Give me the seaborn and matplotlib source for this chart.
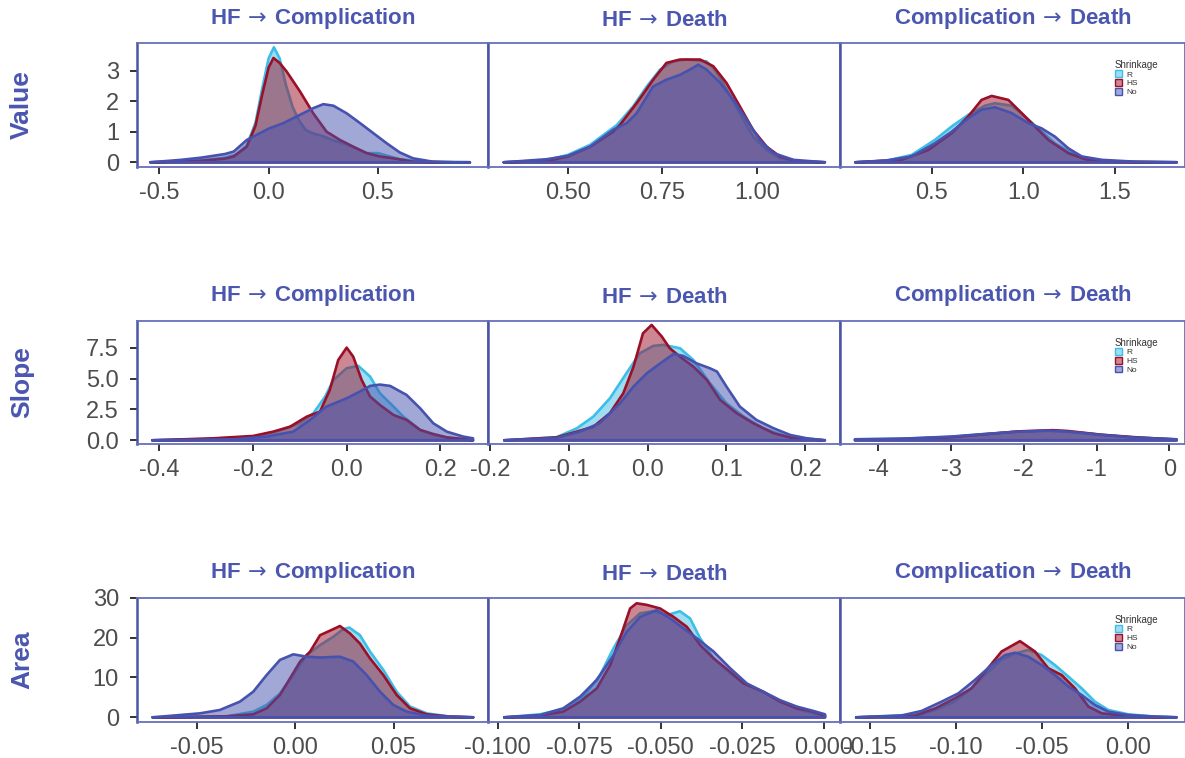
import numpy as np
import pandas as pd
import matplotlib
matplotlib.use("Agg")
import matplotlib.pyplot as plt
from matplotlib.patches import Patch
import seaborn as sns

# ---------------- data (density curves) ----------------
row_names = ["Value", "Slope", "Area"]
col_names = ["HF$\\,\\rightarrow\\,$Complication", "HF$\\,\\rightarrow\\,$Death", "Complication$\\,\\rightarrow\\,$Death"]
series = ["R", "HS", "No"]

# Value / HF -> Complication
v1_R_x = [-0.54, -0.4, -0.3, -0.2, -0.15, -0.1, -0.06, -0.03, 0.0, 0.024, 0.05, 0.08, 0.11, 0.14, 0.17, 0.2, 0.25, 0.3, 0.35, 0.4, 0.45, 0.5, 0.55, 0.6, 0.7, 0.92]
v1_R_y = [0, 0.03, 0.07, 0.15, 0.25, 0.55, 1.3, 2.4, 3.4, 3.76, 3.4, 2.5, 1.8, 1.35, 1.05, 0.95, 0.85, 0.7, 0.6, 0.45, 0.3, 0.3, 0.2, 0.1, 0.02, 0]
v1_HS_x = [-0.54, -0.4, -0.31, -0.2, -0.16, -0.1, -0.06, -0.03, 0.0, 0.022, 0.05, 0.082, 0.143, 0.204, 0.265, 0.326, 0.387, 0.448, 0.509, 0.57, 0.66, 0.8, 0.92]
v1_HS_y = [0, 0.03, 0.05, 0.12, 0.19, 0.51, 1.2, 2.2, 3.1, 3.41, 3.25, 2.97, 2.32, 1.6, 1.0, 0.73, 0.51, 0.3, 0.19, 0.13, 0.02, 0, 0]
v1_No_x = [-0.54, -0.4, -0.31, -0.2, -0.16, -0.1, -0.04, 0.0, 0.067, 0.143, 0.204, 0.25, 0.296, 0.357, 0.418, 0.479, 0.54, 0.6, 0.66, 0.75, 0.85, 0.92]
v1_No_y = [0, 0.08, 0.15, 0.27, 0.35, 0.73, 0.95, 1.1, 1.28, 1.55, 1.77, 1.9, 1.85, 1.6, 1.28, 0.95, 0.62, 0.32, 0.13, 0.02, 0, 0]

# Value / HF -> Death
v2_R_x = [0.331, 0.444, 0.5, 0.559, 0.63, 0.673, 0.709, 0.744, 0.779, 0.814, 0.867, 0.885, 0.911, 0.955, 0.99, 1.026, 1.061, 1.105, 1.18]
v2_R_y = [0, 0.07, 0.24, 0.57, 1.22, 1.83, 2.48, 3.03, 3.30, 3.36, 3.30, 3.08, 2.59, 1.6, 0.84, 0.40, 0.13, 0.03, 0]
v2_HS_x = [0.331, 0.444, 0.5, 0.56, 0.62, 0.638, 0.682, 0.726, 0.761, 0.797, 0.85, 0.885, 0.92, 0.955, 0.99, 1.026, 1.061, 1.105, 1.18]
v2_HS_y = [0, 0.04, 0.19, 0.51, 1.0, 1.22, 1.93, 2.70, 3.25, 3.36, 3.36, 3.14, 2.59, 1.83, 1.06, 0.51, 0.19, 0.04, 0]
v2_No_x = [0.331, 0.444, 0.5, 0.559, 0.62, 0.656, 0.682, 0.726, 0.761, 0.797, 0.823, 0.845, 0.867, 0.903, 0.938, 0.973, 1.008, 1.044, 1.097, 1.18]
v2_No_y = [0, 0.10, 0.21, 0.51, 1.06, 1.28, 1.6, 2.48, 2.70, 2.86, 3.03, 3.19, 3.03, 2.6, 2.04, 1.39, 0.73, 0.30, 0.08, 0]

# Value / Complication -> Death
v3_R_x = [0.082, 0.25, 0.389, 0.516, 0.608, 0.699, 0.79, 0.845, 0.936, 1.009, 1.082, 1.173, 1.283, 1.39, 1.55, 1.84]
v3_R_y = [0, 0.05, 0.24, 0.73, 1.17, 1.55, 1.85, 1.93, 1.85, 1.50, 1.11, 0.62, 0.24, 0.08, 0.02, 0]
v3_HS_x = [0.082, 0.334, 0.48, 0.608, 0.699, 0.772, 0.827, 0.918, 0.991, 1.064, 1.137, 1.246, 1.338, 1.429, 1.6, 1.84]
v3_HS_y = [0, 0.08, 0.40, 0.95, 1.50, 2.04, 2.17, 2.04, 1.61, 1.17, 0.73, 0.30, 0.10, 0.02, 0.01, 0]
v3_No_x = [0.082, 0.25, 0.389, 0.516, 0.608, 0.699, 0.772, 0.845, 0.936, 1.027, 1.1, 1.173, 1.246, 1.32, 1.43, 1.61, 1.84]
v3_No_y = [0, 0.06, 0.19, 0.62, 1.0, 1.44, 1.72, 1.80, 1.61, 1.28, 1.11, 0.84, 0.46, 0.19, 0.08, 0.02, 0]

# Slope / HF -> Complication
s1_R_x = [-0.415, -0.3, -0.2, -0.15, -0.1, -0.071, -0.046, -0.028, 0.0, 0.025, 0.05, 0.071, 0.1, 0.121, 0.157, 0.185, 0.22, 0.27]
s1_R_y = [0, 0.1, 0.3, 0.7, 1.38, 2.19, 3.54, 4.89, 5.83, 6.02, 5.16, 3.81, 2.73, 1.92, 0.84, 0.43, 0.16, 0]
s1_HS_x = [-0.415, -0.285, -0.2, -0.157, -0.121, -0.085, -0.057, -0.036, -0.018, 0.0, 0.014, 0.032, 0.05, 0.071, 0.1, 0.128, 0.157, 0.185, 0.214, 0.256, 0.27]
s1_HS_y = [0, 0.16, 0.35, 0.70, 1.1, 1.92, 2.32, 4.08, 6.5, 7.5, 6.77, 4.89, 3.54, 2.86, 2.05, 1.65, 0.84, 0.51, 0.24, 0.08, 0]
s1_No_x = [-0.415, -0.242, -0.171, -0.114, -0.078, -0.043, 0.0, 0.028, 0.05, 0.071, 0.093, 0.128, 0.157, 0.185, 0.214, 0.249, 0.27]
s1_No_y = [0, 0.08, 0.30, 0.70, 1.65, 2.73, 3.4, 3.94, 4.40, 4.51, 4.40, 3.67, 2.59, 1.38, 0.70, 0.30, 0.16]

# Slope / HF -> Death
s2_R_x = [-0.182, -0.116, -0.09, -0.069, -0.048, -0.027, -0.01, 0.007, 0.02, 0.041, 0.058, 0.079, 0.1, 0.122, 0.147, 0.177, 0.225]
s2_R_y = [0, 0.24, 0.97, 1.92, 3.40, 5.43, 7.04, 7.64, 7.72, 7.45, 6.5, 4.62, 3.0, 1.92, 0.97, 0.30, 0]
s2_HS_x = [-0.182, -0.116, -0.09, -0.069, -0.048, -0.031, -0.018, -0.006, 0.005, 0.018, 0.028, 0.041, 0.058, 0.075, 0.092, 0.113, 0.134, 0.16, 0.185, 0.225]
s2_HS_y = [0, 0.24, 0.70, 1.1, 2.19, 3.81, 5.96, 8.66, 9.34, 8.39, 7.45, 6.77, 5.96, 4.89, 3.27, 2.19, 1.38, 0.57, 0.16, 0]
s2_No_x = [-0.182, -0.116, -0.086, -0.061, -0.035, -0.018, -0.001, 0.016, 0.033, 0.045, 0.062, 0.079, 0.088, 0.1, 0.117, 0.138, 0.16, 0.181, 0.202, 0.225]
s2_No_y = [0, 0.19, 0.70, 1.38, 3.0, 4.35, 5.43, 6.23, 6.99, 6.83, 6.23, 5.83, 5.56, 4.35, 2.73, 1.65, 0.97, 0.43, 0.16, 0]

# Slope / Complication -> Death
s3_R_x = [-4.32, -3.68, -3.0, -2.54, -2.08, -1.65, -1.45, -0.93, -0.47, 0.1]
s3_R_y = [0.08, 0.12, 0.28, 0.5, 0.70, 0.76, 0.74, 0.45, 0.22, 0.08]
s3_HS_x = [-4.32, -3.68, -3.0, -2.54, -2.08, -1.6, -1.39, -0.93, -0.47, 0.1]
s3_HS_y = [0.05, 0.1, 0.25, 0.48, 0.72, 0.82, 0.75, 0.45, 0.25, 0.06]
s3_No_x = [-4.32, -3.68, -3.0, -2.54, -2.08, -1.67, -1.39, -0.93, -0.47, 0.1]
s3_No_y = [0.08, 0.13, 0.30, 0.51, 0.70, 0.78, 0.70, 0.43, 0.22, 0.08]

# Area / HF -> Complication
a1_R_x = [-0.0726, -0.035, -0.0214, -0.0146, -0.0078, -0.001, 0.0058, 0.0126, 0.0193, 0.0244, 0.0275, 0.0329, 0.038, 0.0448, 0.0516, 0.0584, 0.0669, 0.0788, 0.0906]
a1_R_y = [0, 0.25, 1.42, 3.1, 6.0, 10.6, 15.6, 18.1, 20.2, 22.1, 22.5, 20.6, 16.5, 11.9, 6.4, 2.7, 1.0, 0.17, 0]
a1_HS_x = [-0.0726, -0.035, -0.0214, -0.0146, -0.0078, -0.0027, 0.0024, 0.0075, 0.0126, 0.0193, 0.0227, 0.0278, 0.0329, 0.038, 0.0448, 0.0516, 0.0584, 0.0669, 0.0788, 0.0906]
a1_HS_y = [0, 0.25, 0.75, 2.26, 5.6, 9.77, 13.95, 16.46, 20.6, 22.1, 22.9, 21.05, 18.5, 14.8, 10.6, 5.6, 2.26, 0.75, 0.17, 0]
a1_No_x = [-0.0726, -0.0485, -0.0384, -0.0282, -0.0214, -0.0146, -0.0078, -0.001, 0.0058, 0.0126, 0.0227, 0.0295, 0.0363, 0.0431, 0.0499, 0.0567, 0.0669, 0.0906]
a1_No_y = [0, 1.0, 1.84, 3.93, 6.43, 10.6, 14.4, 15.8, 15.2, 15.0, 15.2, 14.0, 10.6, 6.43, 3.1, 1.42, 0.42, 0]

# Area / HF -> Death
a2_R_x = [-0.098, -0.087, -0.0788, -0.0737, -0.0686, -0.0645, -0.0604, -0.0563, -0.0522, -0.0482, -0.0441, -0.041, -0.0379, -0.0338, -0.0287, -0.0246, -0.0185, -0.0134, -0.0083, -0.0032, 0.0004]
a2_R_y = [0, 0.75, 2.26, 5.2, 10.6, 17.3, 23.1, 26.1, 26.6, 25.6, 26.6, 24.8, 19.8, 14.8, 11.0, 8.5, 6.3, 4.1, 2.1, 1.0, 0.42]
a2_HS_x = [-0.098, -0.087, -0.0799, -0.0747, -0.0696, -0.0655, -0.0625, -0.0594, -0.0574, -0.0543, -0.0502, -0.0461, -0.042, -0.0379, -0.0338, -0.0287, -0.0246, -0.0185, -0.0134, -0.0083, -0.0032, 0.0004]
a2_HS_y = [0, 0.42, 1.42, 3.93, 7.27, 13.1, 19.8, 27.3, 28.6, 28.2, 27.3, 25.2, 22.7, 18.1, 14.8, 11.4, 8.5, 6.4, 3.93, 2.26, 1.42, 0.42]
a2_No_x = [-0.098, -0.087, -0.0799, -0.0747, -0.0696, -0.0645, -0.0604, -0.0563, -0.0512, -0.0471, -0.043, -0.0389, -0.0338, -0.0287, -0.0236, -0.0185, -0.0134, -0.0083, -0.0032, 0.0004]
a2_No_y = [0, 0.58, 2.26, 5.2, 9.4, 15.6, 21.5, 25.2, 26.9, 24.8, 22.3, 19.8, 16.5, 12.3, 8.5, 6.4, 4.3, 2.7, 1.6, 0.75]

# Area / Complication -> Death
a3_R_x = [-0.158, -0.12, -0.112, -0.1007, -0.091, -0.0832, -0.0736, -0.0658, -0.0581, -0.0503, -0.0426, -0.0348, -0.0271, -0.0194, -0.0116, 0.0, 0.0136, 0.028]
a3_R_y = [0, 0.75, 1.84, 3.93, 7.27, 10.6, 14.4, 16.0, 16.9, 15.6, 13.1, 10.2, 7.27, 3.93, 1.84, 0.75, 0.25, 0]
a3_HS_x = [-0.158, -0.124, -0.112, -0.1007, -0.091, -0.0832, -0.0736, -0.0629, -0.0542, -0.0465, -0.0387, -0.031, -0.0232, -0.0155, -0.0058, 0.0039, 0.028]
a3_HS_y = [0, 0.42, 2.26, 4.76, 7.27, 11.4, 16.5, 19.1, 16.5, 12.3, 10.6, 7.27, 2.7, 1.0, 0.58, 0.17, 0]
a3_No_x = [-0.158, -0.132, -0.12, -0.1084, -0.0987, -0.089, -0.0794, -0.0716, -0.0658, -0.0581, -0.0503, -0.0426, -0.0348, -0.0271, -0.0194, -0.0116, 0.0, 0.0155, 0.028]
a3_No_y = [0, 0.42, 1.6, 3.93, 6.0, 9.4, 13.1, 15.6, 16.2, 15.2, 13.1, 10.6, 7.7, 5.6, 3.1, 1.42, 0.58, 0.17, 0]

# tick values / labels
yticks = [[0, 1, 2, 3], [0, 2.5, 5, 7.5], [0, 10, 20, 30]]
ytick_labels = [["0", "1", "2", "3"], ["0.0", "2.5", "5.0", "7.5"], ["0", "10", "20", "30"]]
xticks = [
    [[-0.5, 0.0, 0.5], [0.5, 0.75, 1.0], [0.5, 1.0, 1.5]],
    [[-0.4, -0.2, 0.0, 0.2], [-0.2, -0.1, 0.0, 0.1, 0.2], [-4, -3, -2, -1, 0]],
    [[-0.05, 0.0, 0.05], [-0.1, -0.075, -0.05, -0.025, 0.0], [-0.15, -0.10, -0.05, 0.0]],
]
xtick_labels = [
    [["-0.5", "0.0", "0.5"], ["0.50", "0.75", "1.00"], ["0.5", "1.0", "1.5"]],
    [["-0.4", "-0.2", "0.0", "0.2"], ["-0.2", "-0.1", "0.0", "0.1", "0.2"], ["-4", "-3", "-2", "-1", "0"]],
    [["-0.05", "0.00", "0.05"], ["-0.100", "-0.075", "-0.050", "-0.025", "0.000"], ["-0.15", "-0.10", "-0.05", "0.00"]],
]
xlims = [
    [(-0.602, 1.003), (0.289, 1.220), (-0.003, 1.885)],
    [(-0.448, 0.302), (-0.2028, 0.2442), (-4.526, 0.216)],
    [(-0.0806, 0.0981), (-0.103, 0.005), (-0.1674, 0.0329)],
]
ylims = [(-0.154, 3.90), (-0.30, 9.68), (-1.1, 30.0)]

# ---------------- style ----------------
sns.set_theme(style="white")
plt.rcParams["font.family"] = ["Liberation Sans", "DejaVu Sans"]
plt.rcParams["mathtext.fontset"] = "dejavusans"

colors = {"R": "#3DBEE8", "HS": "#9B1028", "No": "#4752AE"}
title_color = "#4A56B0"
frame_color = "#6770BA"

panel_data = {
    (0, 0): {"R": (v1_R_x, v1_R_y), "HS": (v1_HS_x, v1_HS_y), "No": (v1_No_x, v1_No_y)},
    (0, 1): {"R": (v2_R_x, v2_R_y), "HS": (v2_HS_x, v2_HS_y), "No": (v2_No_x, v2_No_y)},
    (0, 2): {"R": (v3_R_x, v3_R_y), "HS": (v3_HS_x, v3_HS_y), "No": (v3_No_x, v3_No_y)},
    (1, 0): {"R": (s1_R_x, s1_R_y), "HS": (s1_HS_x, s1_HS_y), "No": (s1_No_x, s1_No_y)},
    (1, 1): {"R": (s2_R_x, s2_R_y), "HS": (s2_HS_x, s2_HS_y), "No": (s2_No_x, s2_No_y)},
    (1, 2): {"R": (s3_R_x, s3_R_y), "HS": (s3_HS_x, s3_HS_y), "No": (s3_No_x, s3_No_y)},
    (2, 0): {"R": (a1_R_x, a1_R_y), "HS": (a1_HS_x, a1_HS_y), "No": (a1_No_x, a1_No_y)},
    (2, 1): {"R": (a2_R_x, a2_R_y), "HS": (a2_HS_x, a2_HS_y), "No": (a2_No_x, a2_No_y)},
    (2, 2): {"R": (a3_R_x, a3_R_y), "HS": (a3_HS_x, a3_HS_y), "No": (a3_No_x, a3_No_y)},
}

W, H = 1185, 758
fig = plt.figure(figsize=(W / 100, H / 100), dpi=100)
fig.patch.set_facecolor("white")

col_px = [(137, 488), (488, 840), (840, 1185)]
row_px = [(43, 167), (320.7, 444), (597.7, 721.7)]
title_base_px = [24, 301, 578]
title_col_shift = [0, 1.5, 0]

for r in range(3):
    for c in range(3):
        x0, x1 = col_px[c]
        y0, y1 = row_px[r]
        ax = fig.add_axes([x0 / W, 1 - y1 / H, (x1 - x0) / W, (y1 - y0) / H])
        ax.set_facecolor("white")
        for k, s in enumerate(series):
            xs, ys = panel_data[(r, c)][s]
            df = pd.DataFrame({"x": list(xs) + [xs[-1], xs[0]], "y": list(ys) + [0, 0]})
            ax.fill_between(xs, ys, 0, color=colors[s], alpha=0.5, lw=0, zorder=2 + 2 * k)
            sns.lineplot(data=df, x="x", y="y", ax=ax, color=colors[s], lw=1.9,
                         sort=False, estimator=None, zorder=3 + 2 * k)
        ax.set_xlim(*xlims[r][c])
        ax.set_ylim(*ylims[r])
        ax.set_xlabel("")
        ax.set_ylabel("")
        ax.set_xticks(xticks[r][c])
        ax.set_xticklabels(xtick_labels[r][c])
        ax.tick_params(axis="x", bottom=True, length=5, width=1.4, color="#333333",
                       labelsize=17, labelcolor="#4D4D4D", pad=6)
        if c == 0:
            ax.set_yticks(yticks[r])
            ax.set_yticklabels(ytick_labels[r])
            ax.tick_params(axis="y", left=True, length=5, width=1.4, color="#333333",
                           labelsize=17, labelcolor="#4D4D4D", pad=8)
        else:
            ax.set_yticks([])
        for side, sp in ax.spines.items():
            sp.set_visible(True)
            sp.set_color(frame_color)
            sp.set_linewidth(1.3)
        ax.spines["left"].set_color("#4A55A8")
        ax.spines["left"].set_linewidth(1.8)
        ax.grid(False)
        if ax.get_legend() is not None:
            ax.get_legend().remove()
        if c == 2:
            handles = [Patch(facecolor=matplotlib.colors.to_rgba(colors[s], 0.5),
                             edgecolor=colors[s], lw=1.0) for s in series]
            leg = ax.legend(handles, series, title="Shrinkage", loc="upper left",
                            bbox_to_anchor=(0.78, 0.91), frameon=False, fontsize=6,
                            title_fontsize=7, handlelength=0.9, handleheight=0.9,
                            labelspacing=0.05, handletextpad=0.5, borderpad=0.2)
            leg._legend_box.align = "left"
            leg.get_title().set_color("#333333")
            for t in leg.get_texts():
                t.set_color("#333333")
        fig.text((x0 + x1) / 2 / W, 1 - (title_base_px[r] + title_col_shift[c]) / H, col_names[c],
                 ha="center", va="baseline", fontsize=16, fontweight="bold", color=title_color)
    yc = (row_px[r][0] + row_px[r][1]) / 2
    fig.text(22 / W, 1 - yc / H, row_names[r], rotation=90, ha="center", va="center",
             fontsize=19, fontweight="bold", color=title_color)

fig.savefig("out.png", dpi=100, facecolor="white")
